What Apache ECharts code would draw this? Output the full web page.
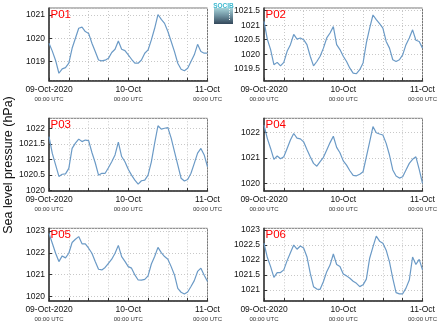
<!DOCTYPE html>
<html><head><meta charset="utf-8">
<script src="https://cdn.jsdelivr.net/npm/echarts@6/dist/echarts.min.js"></script>
<style>html,body{margin:0;padding:0;background:#fff}#c{width:441px;height:327px}</style>
</head><body><div id="c"></div>
<script>
const stations = ['P01', 'P02', 'P03', 'P04', 'P05', 'P06'];
// hourly sea level pressure (hPa), 09-Oct-2020 00:00 to 11-Oct-2020 00:00 UTC
const P01 = [1019.79,1019.45,1019.05,1018.5,1018.69,1018.74,1018.93,1019.57,1020.0,1020.43,1020.48,1020.29,1020.21,1019.79,1019.43,1019.07,1019.03,1019.06,1019.14,1019.39,1019.53,1019.88,1019.53,1019.47,1019.29,1019.1,1018.93,1018.93,1019.07,1019.36,1019.5,1019.93,1020.43,1021.02,1020.81,1020.64,1020.29,1019.86,1019.43,1018.93,1018.67,1018.61,1018.71,1019.0,1019.29,1019.74,1019.43,1019.36,1019.36];
const P02 = [1021.13,1020.52,1020.16,1019.64,1019.72,1019.60,1019.72,1020.10,1020.33,1020.68,1020.52,1020.56,1020.5,1020.33,1019.93,1019.6,1019.75,1019.93,1020.21,1020.56,1020.73,1020.95,1020.33,1020.16,1019.93,1019.75,1019.52,1019.35,1019.33,1019.47,1019.70,1020.39,1020.90,1021.35,1021.19,1021.05,1020.90,1020.44,1020.21,1019.81,1019.75,1019.81,1019.98,1020.33,1020.56,1020.84,1020.48,1020.44,1020.21];
const P03 = [1021.73,1021.19,1020.82,1020.45,1020.52,1020.53,1020.71,1021.35,1021.52,1021.65,1021.57,1021.62,1021.60,1021.22,1020.89,1020.49,1020.55,1020.55,1020.73,1020.92,1021.14,1021.55,1021.09,1020.92,1020.68,1020.49,1020.33,1020.2,1020.31,1020.33,1020.49,1020.92,1021.52,1022.08,1021.97,1022.0,1022.02,1021.68,1021.25,1020.82,1020.39,1020.30,1020.35,1020.55,1020.87,1021.2,1021.35,1021.14,1020.76];
const P04 = [1022.30,1021.78,1021.38,1020.95,1021.08,1020.97,1021.05,1021.38,1021.71,1021.97,1021.79,1021.76,1021.64,1021.34,1021.05,1020.79,1020.68,1020.86,1021.03,1021.32,1021.61,1021.86,1021.42,1021.21,1020.89,1020.72,1020.50,1020.32,1020.30,1020.36,1020.46,1021.05,1021.64,1022.24,1022.0,1021.95,1021.91,1021.58,1021.12,1020.53,1020.29,1020.21,1020.26,1020.53,1020.79,1020.95,1021.05,1020.55,1020.0];
const P05 = [1022.89,1022.44,1021.98,1021.6,1021.86,1021.77,1021.98,1022.47,1022.62,1022.74,1022.41,1022.41,1022.21,1021.98,1021.6,1021.25,1021.22,1021.33,1021.52,1021.71,1021.98,1022.34,1021.83,1021.61,1021.37,1021.30,1020.99,1020.76,1020.75,1020.79,1020.95,1021.49,1021.83,1022.25,1022.01,1021.83,1021.71,1021.37,1020.99,1020.38,1020.20,1020.12,1020.21,1020.46,1020.73,1021.15,1021.3,1020.98,1020.69];
const P06 = [1022.56,1022.09,1021.78,1021.42,1021.58,1021.58,1021.67,1021.98,1022.24,1022.5,1022.36,1022.47,1022.40,1022.11,1021.56,1021.11,1021.03,1021.02,1021.28,1021.61,1021.83,1022.2,1021.85,1021.78,1021.53,1021.47,1021.39,1021.29,1021.22,1021.11,1021.17,1021.36,1022.06,1022.44,1022.8,1022.63,1022.56,1022.33,1021.94,1021.39,1020.91,1020.87,1020.87,1021.06,1021.33,1022.1,1021.85,1022.02,1021.67];
const series = [P01, P02, P03, P04, P05, P06];
const yMin = [1018.18, 1019.09, 1019.98, 1019.70, 1019.80, 1020.63];
const yMax = [1021.30, 1021.59, 1022.32, 1022.57, 1023.12, 1023.06];
const ySplit = [3, 5, 5, 3, 3, 5];
const dayTickHours = [0, 24, 48];
const dayLabels = ['09-Oct-2020', '10-Oct', '11-Oct'];
const timeLabel = '00:00 UTC';
const yTitle = 'Sea level pressure (hPa)';

const FONT = 'Liberation Sans, Arial, sans-serif';
const colLeft = [49, 264];
const rowTop = [8, 118.3, 228.3];
const W = 158.5, H = 72.7;

const chart = echarts.init(document.getElementById('c'), null, {renderer: 'canvas'});
const grids = [], xAxes = [], yAxes = [], ser = [], titles = [];
series.forEach((vals, i) => {
  const c = i % 2, r = Math.floor(i / 2);
  grids.push({left: colLeft[c], top: rowTop[r], width: W, height: H, show: true,
    borderColor: '#777', borderWidth: 1, backgroundColor: 'transparent'});
  xAxes.push({type: 'value', gridIndex: i, min: 0, max: 48, interval: 6,
    axisLine: {show: true, onZero: false, lineStyle: {color: '#333', width: 1.5}},
    axisTick: {show: true, inside: true, length: 3, lineStyle: {color: '#333'}},
    splitLine: {show: true, lineStyle: {color: '#c8c8c8', type: [1, 2], width: 1}},
    axisLabel: {margin: 4, fontFamily: FONT,
      formatter: v => { const k = dayTickHours.indexOf(v); return k < 0 ? '' : '{a|' + dayLabels[k] + '}\n{b|' + timeLabel + '}'; },
      rich: {a: {fontSize: 8.5, lineHeight: 10, color: '#111', fontFamily: FONT},
             b: {fontSize: 6, lineHeight: 9, color: '#333', fontFamily: FONT}}}
  });
  yAxes.push({type: 'value', gridIndex: i, min: yMin[i], max: yMax[i], splitNumber: ySplit[i],
    axisLine: {show: true, onZero: false, lineStyle: {color: '#333', width: 1.5}},
    axisTick: {show: true, inside: true, length: 3, lineStyle: {color: '#333'}},
    splitLine: {show: true, lineStyle: {color: '#c8c8c8', type: [1, 2], width: 1}},
    axisLabel: {margin: 4, fontSize: 8.5, color: '#111', fontFamily: FONT, showMinLabel: false, showMaxLabel: false,
      formatter: v => String(Math.round(v * 10) / 10)}
  });
  ser.push({type: 'line', xAxisIndex: i, yAxisIndex: i, showSymbol: false, symbol: 'none',
    lineStyle: {color: '#6b9ac6', width: 1.2}, data: vals.map((v, h) => [h, v]), animation: false});
  titles.push({text: stations[i], left: colLeft[c] + 1.5, top: rowTop[r] + 0.5, padding: 0,
    textStyle: {color: '#ff0000', fontSize: 11.5, fontWeight: 'normal', fontFamily: FONT}});
});

chart.setOption({
  animation: false,
  backgroundColor: '#fff',
  title: titles,
  grid: grids, xAxis: xAxes, yAxis: yAxes, series: ser,
  graphic: [
    {type: 'text', x: 9, y: 165, rotation: Math.PI / 2,
      style: {text: yTitle, fontSize: 12.5, fontFamily: FONT, fill: '#111', textAlign: 'center', textVerticalAlign: 'middle'}},
    {type: 'rect', shape: {x: 214, y: 8, width: 19, height: 16},
      style: {fill: new echarts.graphic.LinearGradient(0, 0, 0, 1, [{offset: 0, color: '#a6d3d9'}, {offset: 0.5, color: '#6c8f9e'}, {offset: 1, color: '#33475a'}])}},
    {type: 'text', x: 223.5, y: 2.5,
      style: {text: 'SOCIB', fontSize: 6.5, fontWeight: 'bold', fontFamily: FONT, fill: '#3cb8cf', textAlign: 'center', textVerticalAlign: 'top'}},
    {type: 'line', shape: {x1: 229.5, y1: 9, x2: 229.5, y2: 21},
      style: {stroke: '#ffffff', lineWidth: 1, lineDash: [1, 1.5]}}
  ]
});
</script></body></html>
